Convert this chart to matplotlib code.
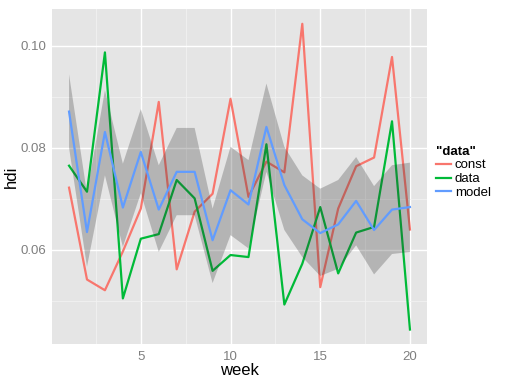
import matplotlib
matplotlib.use("Agg")
import matplotlib.pyplot as plt
from matplotlib.ticker import FixedLocator

plt.rcParams['font.family'] = ['Liberation Sans', 'DejaVu Sans']

week = list(range(1, 21))
const = [0.0722, 0.0542, 0.0521, 0.0597, 0.0681, 0.0890, 0.0562, 0.0675, 0.0710, 0.0896,
         0.0704, 0.0773, 0.0752, 0.1043, 0.0527, 0.0681, 0.0764, 0.0781, 0.0978, 0.0640]
data = [0.0765, 0.0714, 0.0987, 0.0505, 0.0622, 0.0631, 0.0737, 0.0701, 0.0559, 0.0590,
        0.0586, 0.0807, 0.0493, 0.0573, 0.0684, 0.0554, 0.0634, 0.0645, 0.0852, 0.0444]
model = [0.0871, 0.0635, 0.0831, 0.0683, 0.0792, 0.0679, 0.0753, 0.0753, 0.0619, 0.0717,
         0.0689, 0.0841, 0.0727, 0.0660, 0.0633, 0.0650, 0.0696, 0.0639, 0.0679, 0.0684]
upper = [0.0944, 0.0711, 0.0913, 0.0769, 0.0876, 0.0766, 0.0839, 0.0839, 0.0681, 0.0802,
         0.0776, 0.0926, 0.0802, 0.0746, 0.0720, 0.0737, 0.0782, 0.0725, 0.0766, 0.0771]
lower = [0.0800, 0.0567, 0.0746, 0.0606, 0.0711, 0.0596, 0.0668, 0.0668, 0.0535, 0.0629,
         0.0603, 0.0753, 0.0639, 0.0586, 0.0549, 0.0563, 0.0609, 0.0552, 0.0592, 0.0596]

series_names = ['const', 'data', 'model']
colors = ['#F8766D', '#00BA38', '#619CFF']

W, H = 509, 381
fig = plt.figure(figsize=(W / 100, H / 100), dpi=100)
ax = fig.add_axes([52 / W, 1 - 344 / H, (427 - 52) / W, (344 - 9) / H])
ax.set_facecolor('#E5E5E5')
for s in ax.spines.values():
    s.set_visible(False)

ax.set_xlim(0.05, 20.95)
ax.set_ylim(0.04157, 0.1072)
ax.xaxis.set_major_locator(FixedLocator([5, 10, 15, 20]))
ax.xaxis.set_minor_locator(FixedLocator([2.5, 7.5, 12.5, 17.5]))
ax.yaxis.set_major_locator(FixedLocator([0.06, 0.08, 0.10]))
ax.yaxis.set_minor_locator(FixedLocator([0.05, 0.07, 0.09]))
ax.set_yticklabels(['0.06', '0.08', '0.10'])
ax.grid(which='major', color='white', linewidth=1.0)
ax.grid(which='minor', color='#F2F2F2', linewidth=0.6)
ax.set_axisbelow(True)
ax.tick_params(which='major', length=0, labelcolor='#7F7F7F', labelsize=9.5)
ax.tick_params(axis='x', pad=5)
ax.tick_params(axis='y', pad=4)
ax.tick_params(which='minor', length=0)

lw = 1.6
ax.plot(week, const, color=colors[0], linewidth=lw, label=series_names[0], zorder=3)
ax.plot(week, data, color=colors[1], linewidth=lw, label=series_names[1], zorder=3)
ax.fill_between(week, lower, upper, facecolor='#333333', alpha=0.27, linewidth=0, zorder=4)
ax.plot(week, model, color=colors[2], linewidth=lw, label=series_names[2], zorder=5)

ax.set_xlabel('week', fontsize=12, labelpad=0)
ax.set_ylabel('hdi', fontsize=12, labelpad=1)

leg = ax.legend(title='"data"', loc='upper left', bbox_to_anchor=(1.0, 0.62),
                frameon=False, fontsize=9.5, handlelength=1.1, handletextpad=0.3,
                labelspacing=0.12, borderaxespad=0.3)
leg.get_title().set_fontweight('bold')
leg.get_title().set_fontsize(9.5)
leg._legend_box.align = 'left'

fig.savefig('out.png', dpi=100)
